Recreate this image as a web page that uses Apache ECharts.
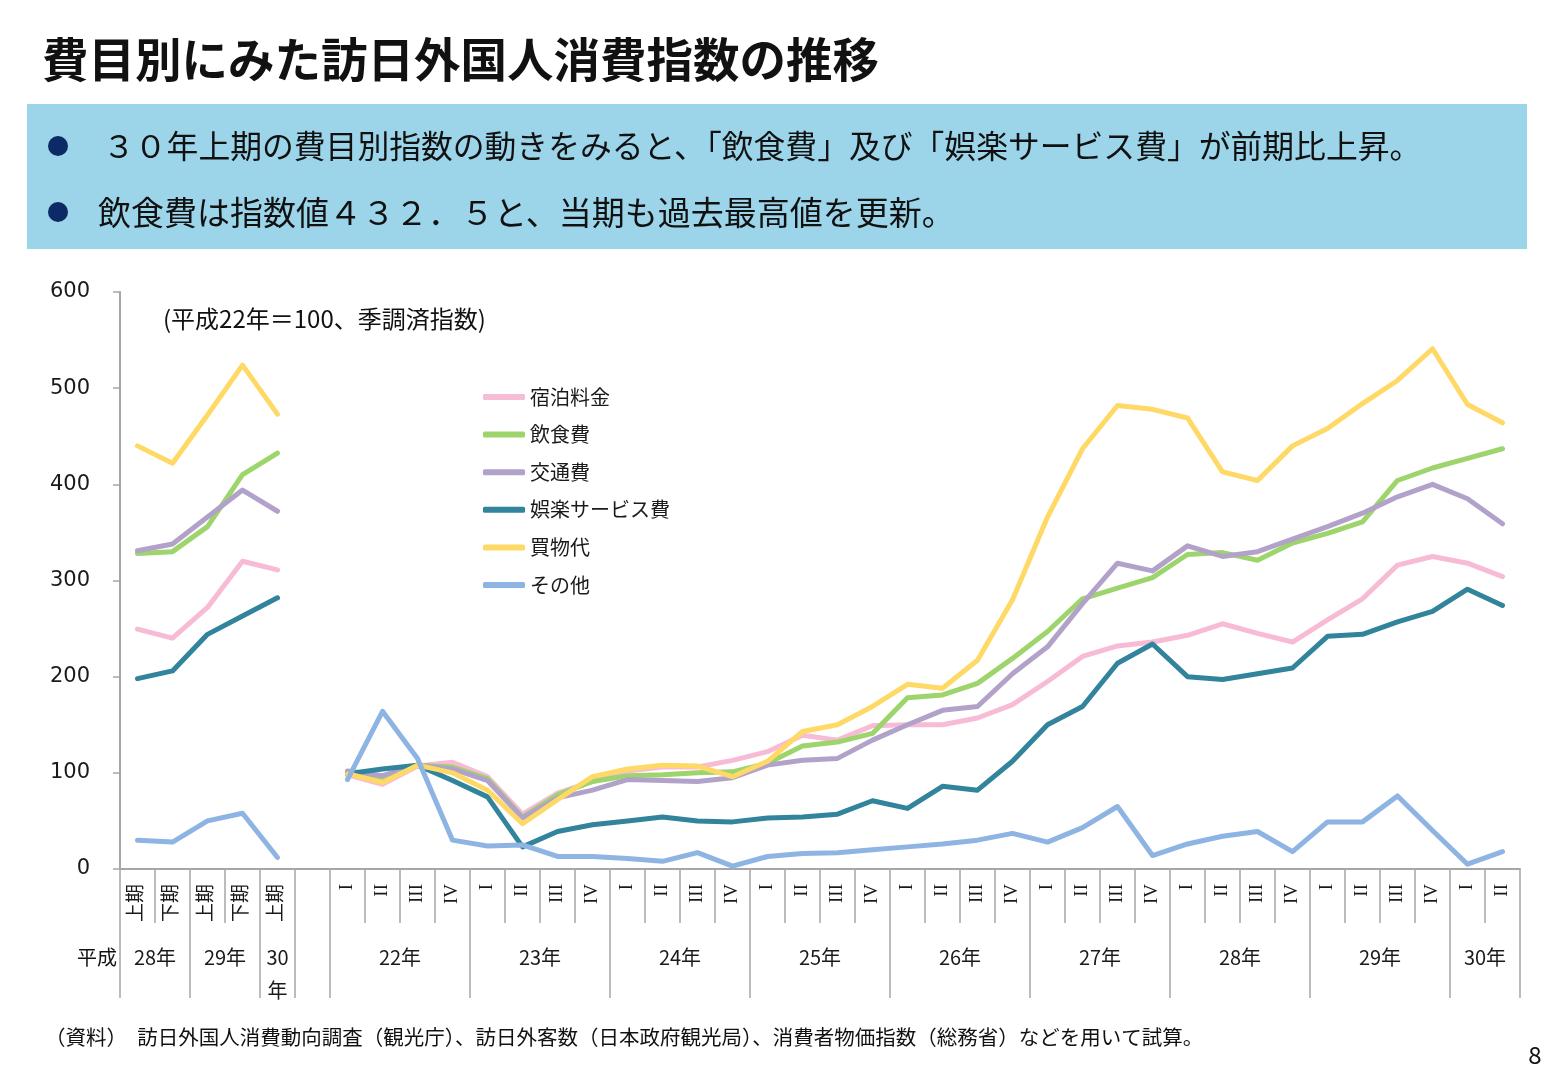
<!DOCTYPE html>
<html><head><meta charset="utf-8">
<script src="https://cdn.jsdelivr.net/npm/echarts@6/dist/echarts.min.js"></script>
<style>html,body{margin:0;padding:0;background:#fff}#c{width:1555px;height:1073px}</style>
</head><body><div id="c"></div>
<script>
// ---- data ----
const categories = ['上期','下期','上期','下期','上期','',
  'I','II','III','IV','I','II','III','IV','I','II','III','IV','I','II','III','IV',
  'I','II','III','IV','I','II','III','IV','I','II','III','IV','I','II','III','IV','I','II'];
const yearLabels = ['28年','29年','30\n年','22年','23年','24年','25年','26年','27年','28年','29年','30年'];
const yearCenters = [1,3,4.5,8,12,16,20,24,28,32,36,39];
const yearBounds = [0,2,4,5,6,10,14,18,22,26,30,34,38,40];
const yTicks = [0,100,200,300,400,500,600];

const shukuhaku = [249.5,240,272,320,311,null,
  98,88,107,111,96,57,79,91,102,106,106,113,122,139,134,149,150,150,157,171,195,221,232,236,243,255,245,236,259,281,316,325,318,304];
const inshoku = [328,330,356,410,432.5,null,
  101,94,108,106,94,54,77,91,97,98,100,101,110,128,132,141,178,181,193,219,247,281,292,303,327,329,321,339,349,361,404,417,427,437];
const kotsu = [331,338,366,394,372,null,
  102,97,108,104,92,53,74,82,93,92,91,95,108,113,115,134,150,165,169,203,231,276,318,310,336,325,330,343,356,370,387,400,385,359];
const goraku = [198,206,244,263,282,null,
  99,104,108,92,75,23,39,46,50,54,50,49,53,54,57,71,63,86,82,112,150,169,214,234,200,197,203,209,242,244,257,268,291,274];
const kaimono = [440,422,472,524,473,null,
  99,90,108,100,82,47,72,96,104,108,107,96,112,143,150,169,192,188,217,280,366,437,482,478,469,413,404,440,458,484,508,541,483,464];
const sonota = [30,28,50,58,12,null,
  93,164,115,30,24,25,13,13,11,8,17,3,13,16,17,20,23,26,30,37,28,43,65,14,26,34,39,18,49,49,76,40,5,18];

const seriesNames = ['宿泊料金','飲食費','交通費','娯楽サービス費','買物代','その他'];
const seriesData = [shukuhaku, inshoku, kotsu, goraku, kaimono, sonota];
const seriesColors = ['#f8bbd6','#9dd46c','#b2a2ca','#31849b','#ffd966','#8eb4e3'];

// ---- build ----
const JP = '"Noto Sans CJK JP","Noto Sans",sans-serif';
const halfCats = [];
for (let k = 0; k <= 80; k++) {
  const idx = yearCenters.findIndex(c => c * 2 === k);
  halfCats.push(idx >= 0 ? yearLabels[idx] : '');
}
const boundHalf = yearBounds.map(b => b * 2);

const chart = echarts.init(document.getElementById('c'), null, {renderer: 'canvas'});
chart.setOption({
  animation: false,
  backgroundColor: '#fff',
  grid: {left: 120, right: 35, top: 292, bottom: 204, containLabel: false},
  legend: {
    orient: 'vertical', left: 483, top: 385, padding: 0,
    itemWidth: 42, itemHeight: 6, itemGap: 13.6, icon: 'roundRect',
    textStyle: {fontSize: 20, lineHeight: 24, color: '#1a1a1a', fontFamily: JP},
    data: seriesNames
  },
  xAxis: [
    {
      type: 'category', data: categories, boundaryGap: true, position: 'bottom',
      axisLine: {show: true, lineStyle: {color: '#a6a6a6', width: 2}},
      axisTick: {show: true, interval: 0, length: 54, lineStyle: {color: '#a6a6a6', width: 1.5}},
      axisLabel: {interval: 0, rotate: 90, margin: 15, fontSize: 19, color: '#1a1a1a',
        fontFamily: '"Liberation Serif","Noto Sans CJK JP",serif'},
      splitLine: {show: false}
    },
    {
      type: 'category', data: halfCats, boundaryGap: false, position: 'bottom',
      axisLine: {show: false},
      axisTick: {show: true, length: 129, interval: (i) => boundHalf.includes(i),
        lineStyle: {color: '#a6a6a6', width: 1.5}},
      axisLabel: {interval: (i, v) => v !== '', margin: 72, fontSize: 20, lineHeight: 33,
        color: '#1a1a1a', fontFamily: JP},
      splitLine: {show: false}
    }
  ],
  yAxis: {
    type: 'value', min: 0, max: 600, interval: 100,
    axisLine: {show: true, lineStyle: {color: '#a6a6a6', width: 2}},
    axisTick: {show: true, length: 7, lineStyle: {color: '#a6a6a6', width: 1.5}},
    axisLabel: {margin: 30, fontSize: 21, color: '#1a1a1a', fontFamily: '"DejaVu Sans",sans-serif',
      formatter: v => yTicks.includes(v) ? String(v) : ''},
    splitLine: {show: false}
  },
  series: seriesNames.map((n, i) => ({
    name: n, type: 'line', data: seriesData[i], xAxisIndex: 0, yAxisIndex: 0,
    symbol: 'none', showSymbol: false, connectNulls: false,
    lineStyle: {width: 5, color: seriesColors[i], cap: 'round', join: 'round'},
    itemStyle: {color: seriesColors[i]},
    emphasis: {disabled: true}
  })),
  graphic: [
    {type: 'text', left: 42, top: 36, style: {text: '費目別にみた訪日外国人消費指数の推移',
      font: 'bold 46.5px ' + JP, fill: '#111'}},
    {type: 'rect', shape: {x: 27, y: 104, width: 1500, height: 145}, style: {fill: '#9cd5ea'}},
    {type: 'circle', shape: {cx: 58, cy: 146, r: 10}, style: {fill: '#0b2a66'}},
    {type: 'circle', shape: {cx: 58, cy: 212, r: 10}, style: {fill: '#0b2a66'}},
    {type: 'text', style: {x: 103, y: 146, text: '３０年上期の費目別指数の動きをみると、「飲食費」及び「娯楽サービス費」が前期比上昇。',
      font: '31.8px ' + JP, fill: '#111', verticalAlign: 'middle'}},
    {type: 'text', style: {x: 98, y: 212, text: '飲食費は指数値４３２．５と、当期も過去最高値を更新。',
      font: '33px ' + JP, fill: '#111', verticalAlign: 'middle'}},
    {type: 'text', style: {x: 163, y: 319, text: '(平成22年＝100、季調済指数)',
      font: '24px ' + JP, fill: '#111', verticalAlign: 'middle'}},
    {type: 'text', style: {x: 97, y: 957, text: '平成', font: '20px ' + JP, fill: '#111',
      align: 'center', verticalAlign: 'middle'}},
    {type: 'text', style: {x: 45, y: 1037, text: '（資料）　訪日外国人消費動向調査（観光庁）、訪日外客数（日本政府観光局）、消費者物価指数（総務省）などを用いて試算。',
      font: '20.5px ' + JP, fill: '#111', verticalAlign: 'middle'}},
    {type: 'text', style: {x: 1535, y: 1055, text: '8', font: '24px ' + JP, fill: '#111',
      align: 'center', verticalAlign: 'middle'}}
  ]
});
</script></body></html>
